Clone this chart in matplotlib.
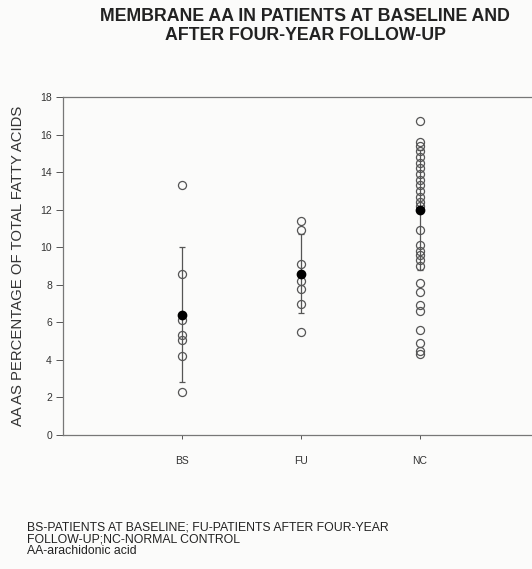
import matplotlib
matplotlib.use("Agg")
import matplotlib.pyplot as plt
import numpy as np

categories = ["BS", "FU", "NC"]
bs_values = [13.3, 8.6, 6.1, 5.3, 5.05, 4.2, 2.3]
fu_values = [11.4, 10.9, 9.1, 8.2, 7.8, 7.0, 5.5]
nc_values = [16.7, 15.6, 15.4, 15.1, 14.8, 14.5, 14.2, 13.9, 13.6, 13.3,
             13.0, 12.7, 12.4, 12.2, 10.9, 10.1, 9.8, 9.6, 9.3, 9.0,
             8.1, 7.6, 6.9, 6.6, 5.6, 4.9, 4.5, 4.3]
means = [6.4, 8.6, 12.0]
sds = [3.6, 2.1, 3.2]
yticks = [0, 2, 4, 6, 8, 10, 12, 14, 16, 18]

plt.rcParams['font.family'] = ['Liberation Sans', 'DejaVu Sans']

fig = plt.figure(figsize=(5.32, 5.69), dpi=100)
fig.patch.set_facecolor('#fbfbfa')
ax = fig.add_axes([0.1184, 0.2355, 0.8816, 0.594])
ax.set_facecolor('#fbfbfa')

gray = '#555555'
groups = [bs_values, fu_values, nc_values]
xpos = np.arange(1, len(categories) + 1)
for x, vals, m, s in zip(xpos, groups, means, sds):
    ax.errorbar([x], [m], yerr=[s], fmt='none', ecolor=gray, elinewidth=0.9,
                capsize=2.5, capthick=0.9, zorder=2)
    ax.plot([x] * len(vals), vals, linestyle='none', marker='o', markersize=5.8,
            markerfacecolor='none', markeredgecolor=gray, markeredgewidth=0.9, zorder=3)
    ax.plot([x], [m], linestyle='none', marker='o', markersize=6,
            markerfacecolor='black', markeredgecolor='black', zorder=4)

ax.set_xlim(0, 3.94)
ax.set_ylim(0, 18)
ax.set_xticks(xpos)
ax.set_xticklabels(categories, fontsize=7.5, color='#333333')
ax.set_yticks(yticks)
ax.set_yticklabels([str(t) for t in yticks], fontsize=7.5, color='#333333')
ax.tick_params(axis='y', direction='out', length=5, width=0.7, color=gray, pad=3)
ax.tick_params(axis='x', direction='out', length=3, width=0.7, color=gray, pad=12)
for sp in ['left', 'top', 'bottom']:
    ax.spines[sp].set_color('#777777')
    ax.spines[sp].set_linewidth(0.9)
ax.spines['right'].set_visible(False)

ax.set_ylabel("AA AS PERCENTAGE OF TOTAL FATTY ACIDS", fontsize=10.7, color='#333333', labelpad=4)
ax.yaxis.set_label_coords(-0.082, 0.5)

fig.text(0.574, 0.986, "MEMBRANE AA IN PATIENTS AT BASELINE AND\nAFTER FOUR-YEAR FOLLOW-UP",
         ha='center', va='top', fontsize=12.8, fontweight='bold', color='#222222',
         linespacing=1.12)

fig.text(0.05, 0.0527, "BS-PATIENTS AT BASELINE; FU-PATIENTS AFTER FOUR-YEAR\nFOLLOW-UP;NC-NORMAL CONTROL\nAA-arachidonic acid",
         ha='left', va='center', fontsize=8.8, color='#222222', linespacing=1.0)

fig.savefig("out.png", dpi=100, facecolor=fig.get_facecolor())
